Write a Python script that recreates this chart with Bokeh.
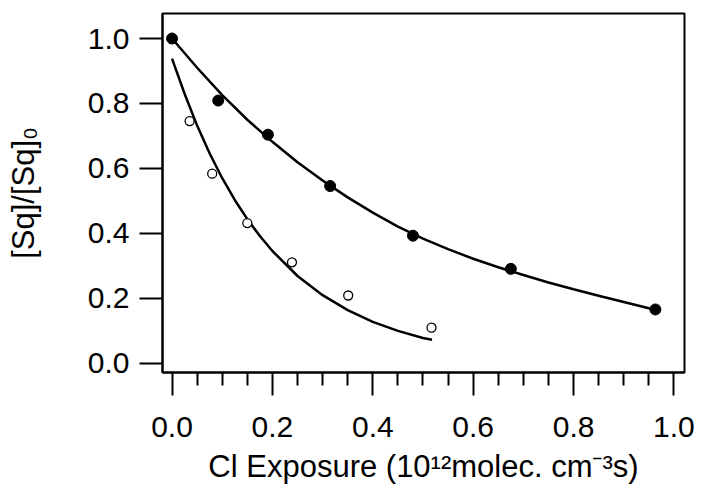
from bokeh.plotting import figure
from bokeh.models import FixedTicker, Range1d, PrintfTickFormatter
from bokeh.embed import file_html
from bokeh.resources import INLINE

# Measured data (filled circles)
filled_x = [0.0, 0.092, 0.191, 0.315, 0.480, 0.675, 0.963]
filled_y = [1.0, 0.809, 0.704, 0.546, 0.393, 0.291, 0.166]

# Measured data (open circles)
open_x = [0.035, 0.080, 0.150, 0.239, 0.351, 0.517]
open_y = [0.746, 0.584, 0.432, 0.311, 0.209, 0.110]

# Fit curve through filled points
fit1_x = [0.0, 0.05, 0.10, 0.15, 0.20, 0.25, 0.30, 0.35, 0.40, 0.45, 0.50,
          0.55, 0.60, 0.65, 0.70, 0.75, 0.80, 0.85, 0.90, 0.95, 0.962]
fit1_y = [1.000, 0.910, 0.826, 0.750, 0.682, 0.619, 0.563, 0.511, 0.464, 0.421, 0.384,
          0.352, 0.322, 0.296, 0.272, 0.249, 0.228, 0.208, 0.189, 0.170, 0.166]

# Fit curve through open points
fit2_x = [0.0, 0.025, 0.05, 0.075, 0.10, 0.125, 0.15, 0.175, 0.20, 0.25,
          0.30, 0.35, 0.40, 0.45, 0.50, 0.518]
fit2_y = [0.938, 0.830, 0.732, 0.646, 0.570, 0.503, 0.444, 0.392, 0.346, 0.269,
          0.210, 0.164, 0.128, 0.100, 0.078, 0.073]

x_ticks = [0.0, 0.2, 0.4, 0.6, 0.8, 1.0]
x_minor = [0.05, 0.10, 0.15, 0.25, 0.30, 0.35, 0.45, 0.50, 0.55, 0.65, 0.70, 0.75, 0.85, 0.90, 0.95]
y_ticks = [0.0, 0.2, 0.4, 0.6, 0.8, 1.0]

x_label = "Cl Exposure (10\u00b9\u00b2molec. cm\u207b\u00b3s)"
y_label = "[Sq]/[Sq]\u2080"

FONT = "Liberation Sans"

X0, X1 = -0.019, 1.021
Y0, Y1 = -0.028, 1.077
FL, FR, FT, FB = 162, 684, 13, 372

p = figure(width=701, height=499, output_backend="svg", toolbar_location=None,
           x_range=Range1d(X0, X1), y_range=Range1d(Y0, Y1),
           min_border_left=FL, min_border_right=701 - FR, min_border_top=FT,
           min_border_bottom=499 - FB)
p.background_fill_color = "white"
p.border_fill_color = "white"
p.grid.visible = False
p.outline_line_color = "black"
p.outline_line_width = 2
p.outline_line_alpha = 1.0

for ax in (p.xaxis[0], p.yaxis[0]):
    ax.axis_line_width = 2
    ax.axis_line_color = "black"
    ax.major_tick_line_width = 2
    ax.major_tick_line_color = "black"
    ax.major_tick_out = 23
    ax.major_tick_in = 0
    ax.major_label_text_font = FONT
    ax.major_label_text_font_size = "30px"
    ax.major_label_text_color = "black"
    ax.formatter = PrintfTickFormatter(format="%.1f")
    ax.axis_label_text_font = FONT
    ax.axis_label_text_font_size = "31px"
    ax.axis_label_text_font_style = "normal"
    ax.axis_label_text_color = "black"

p.xaxis.ticker = FixedTicker(ticks=x_ticks, minor_ticks=x_minor)
p.xaxis.minor_tick_out = 13
p.xaxis.minor_tick_in = 0
p.xaxis.minor_tick_line_width = 2
p.xaxis.minor_tick_line_color = "black"
p.xaxis.major_label_standoff = 21
p.xaxis.axis_label = x_label
p.xaxis.axis_label_standoff = 9

p.yaxis.ticker = FixedTicker(ticks=y_ticks)
p.yaxis.minor_tick_line_color = None
p.yaxis.major_label_standoff = 10
p.yaxis.axis_label = y_label
p.yaxis.axis_label_standoff = 44

p.line(fit1_x, fit1_y, line_color="black", line_width=2.5)
p.line(fit2_x, fit2_y, line_color="black", line_width=2.5)
p.scatter(filled_x, filled_y, size=11, fill_color="black", line_color="black")
p.scatter(open_x, open_y, size=9, fill_color="white", line_color="black", line_width=1.3)

open("out.html", "w").write(file_html(p, INLINE))
